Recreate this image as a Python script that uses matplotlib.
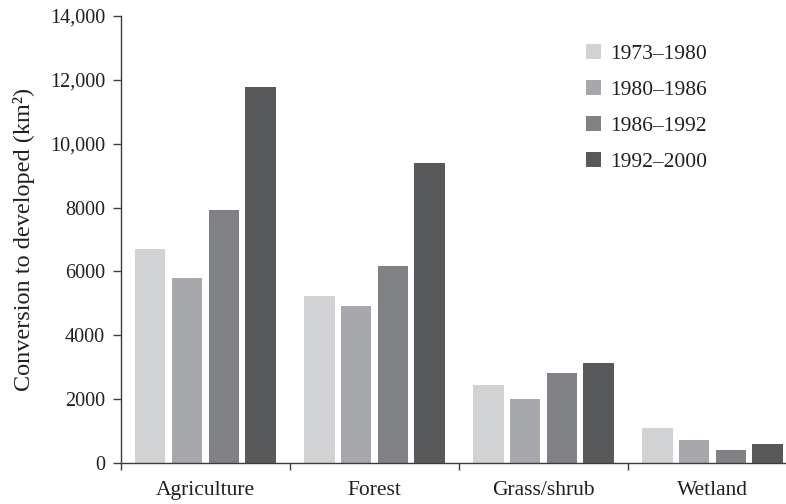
import numpy as np
import matplotlib
matplotlib.use("Agg")
import matplotlib.pyplot as plt

# land cover classes and conversion periods
categories = ["Agriculture", "Forest", "Grass/shrub", "Wetland"]
periods = ["1973\u20131980", "1980\u20131986", "1986\u20131992", "1992\u20132000"]
colors = ["#d1d2d4", "#a7a8ab", "#808184", "#58595b"]

# conversion to developed (km2)
v_1973_1980 = [6700, 5230, 2440, 1100]
v_1980_1986 = [5790, 4920, 2000, 720]
v_1986_1992 = [7930, 6180, 2820, 410]
v_1992_2000 = [11780, 9400, 3130, 600]
series = [v_1973_1980, v_1980_1986, v_1986_1992, v_1992_2000]

yticks = [0, 2000, 4000, 6000, 8000, 10000, 12000, 14000]
ytick_labels = ["0", "2000", "4000", "6000", "8000", "10,000", "12,000", "14,000"]

plt.rcParams["font.family"] = ["Liberation Serif", "DejaVu Serif"]
txt = "#231f20"

fig = plt.figure(figsize=(7.86, 5.04), dpi=100)
ax = fig.add_axes([0.1539, 0.0813, 0.8461, 0.8869])

x = np.arange(len(categories))
step = 0.217
width = 0.178
for i, (vals, lab, c) in enumerate(zip(series, periods, colors)):
    ax.bar(x + (i - 1.5) * step, vals, width=width, color=c, label=lab, zorder=2)

ax.set_xlim(-0.5, 3.435)
ax.set_ylim(0, 14000)

ax.set_yticks(yticks)
ax.set_yticklabels(ytick_labels, fontsize=14.5, color=txt)
ax.tick_params(axis="y", length=6, width=1, pad=5.5, color="#3c3c3c")

# boundary ticks on x, category names centred under each group
ax.set_xticks([-0.5, 0.5, 1.5, 2.5])
ax.set_xticklabels([])
ax.tick_params(axis="x", which="major", length=5, width=1, color="#3c3c3c")
ax.set_xticks(x, minor=True)
ax.set_xticklabels(categories, minor=True, fontsize=15.5, color=txt)
ax.tick_params(axis="x", which="minor", length=0, pad=13)

ax.set_ylabel("Conversion to developed (km\u00b2)", fontsize=17.5, color=txt, labelpad=10.5)

for s in ["top", "right"]:
    ax.spines[s].set_visible(False)
for s in ["left", "bottom"]:
    ax.spines[s].set_color("#3c3c3c")
    ax.spines[s].set_linewidth(1)

leg = ax.legend(loc="upper left", bbox_to_anchor=(0.745, 0.912),
                bbox_transform=fig.transFigure, frameon=False, fontsize=15.5,
                handlelength=0.7, handleheight=0.7, handletextpad=0.45,
                labelspacing=0.74, borderpad=0, borderaxespad=0)
for t in leg.get_texts():
    t.set_color(txt)

fig.savefig("out.png", dpi=100)
